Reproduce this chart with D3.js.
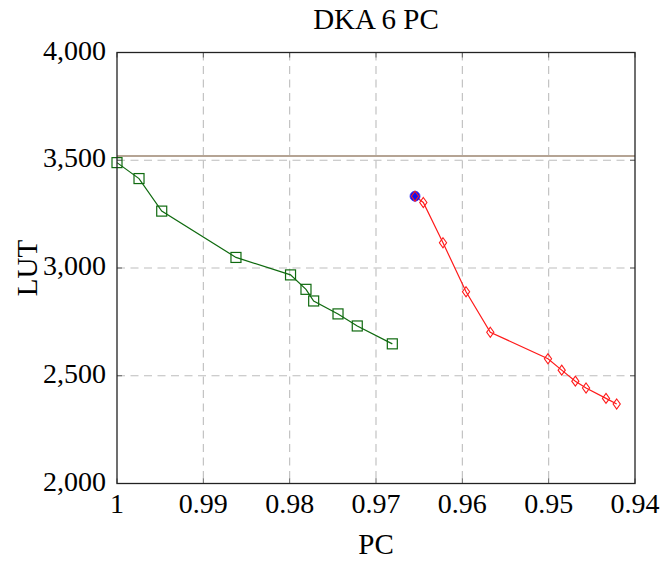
<!DOCTYPE html>
<html>
<head>
<meta charset="utf-8">
<script src="https://cdn.jsdelivr.net/npm/d3@7"></script>
<style>
  body { margin: 0; background: #fff; }
  text { font-family: "Liberation Serif", "DejaVu Serif", serif; fill: #000; }
</style>
</head>
<body>
<div id="chart"></div>
<script>
// Datos
const greenPC  = [1.0, 0.99745, 0.99482, 0.98622, 0.9799, 0.97811, 0.97722, 0.9744, 0.97217, 0.96811];
const greenLUT = [3489, 3415, 3264, 3049, 2968, 2901, 2847, 2787, 2731, 2648];

const redPC  = [0.96548, 0.96452, 0.96224, 0.95957, 0.95676, 0.95008, 0.94849, 0.94691, 0.94567, 0.94336, 0.94212];
const redLUT = [3333, 3304, 3117, 2890, 2702, 2579, 2526, 2475, 2443, 2395, 2369];

const bluePC  = [0.96548];
const blueLUT = [3333];

const limitLUT = 3520;

const xTicks = [1, 0.99, 0.98, 0.97, 0.96, 0.95, 0.94];
const yTicks = [2000, 2500, 3000, 3500, 4000];

// Dimensiones
const W = 664, H = 561;
const margin = {top: 52.5, right: 29, bottom: 77.5, left: 117};
const width = W - margin.left - margin.right;
const height = H - margin.top - margin.bottom;

const svg = d3.select("#chart").append("svg")
    .attr("width", W).attr("height", H);

const g = svg.append("g")
    .attr("transform", `translate(${margin.left},${margin.top})`);

const x = d3.scaleLinear().domain([1, 0.94]).range([0, width]);
const y = d3.scaleLinear().domain([2000, 4000]).range([height, 0]);

// Rejilla punteada
g.append("g").selectAll("line").data(xTicks.slice(1, -1)).join("line")
    .attr("x1", d => x(d)).attr("x2", d => x(d))
    .attr("y1", 0).attr("y2", height)
    .attr("stroke", "#bdbdbd").attr("stroke-width", 1.1)
    .attr("stroke-dasharray", "8,5.5");

g.append("g").selectAll("line").data(yTicks.slice(1, -1)).join("line")
    .attr("y1", d => y(d)).attr("y2", d => y(d))
    .attr("x1", 0).attr("x2", width)
    .attr("stroke", "#bdbdbd").attr("stroke-width", 1.1)
    .attr("stroke-dasharray", "8,5.5");

// Marcas cortas hacia dentro en los cuatro lados
const tickLen = 5;
const tickG = g.append("g").attr("stroke", "#555").attr("stroke-width", 0.9);
xTicks.forEach(t => {
    tickG.append("line").attr("x1", x(t)).attr("x2", x(t)).attr("y1", height).attr("y2", height - tickLen);
    tickG.append("line").attr("x1", x(t)).attr("x2", x(t)).attr("y1", 0).attr("y2", tickLen);
});
yTicks.forEach(t => {
    tickG.append("line").attr("y1", y(t)).attr("y2", y(t)).attr("x1", 0).attr("x2", tickLen);
    tickG.append("line").attr("y1", y(t)).attr("y2", y(t)).attr("x1", width).attr("x2", width - tickLen);
});

// Linea horizontal de referencia
g.append("line")
    .attr("x1", 0).attr("x2", width)
    .attr("y1", y(limitLUT)).attr("y2", y(limitLUT))
    .attr("stroke", "#9c8670").attr("stroke-width", 1.5);

const line = d3.line().x(d => x(d[0])).y(d => y(d[1]));

// Serie verde (cuadrados)
const greenData = d3.zip(greenPC, greenLUT);
g.append("path").attr("d", line(greenData))
    .attr("fill", "none").attr("stroke", "#0f6a0f").attr("stroke-width", 1.2);
g.append("g").selectAll("rect").data(greenData).join("rect")
    .attr("x", d => x(d[0]) - 5).attr("y", d => y(d[1]) - 5)
    .attr("width", 10).attr("height", 10)
    .attr("fill", "none").attr("stroke", "#0f6a0f").attr("stroke-width", 1.2);

// Serie roja (rombos)
const redData = d3.zip(redPC, redLUT);
g.append("path").attr("d", line(redData))
    .attr("fill", "none").attr("stroke", "#ff1a1a").attr("stroke-width", 1.2);

// Punto azul
g.append("g").selectAll("circle").data(d3.zip(bluePC, blueLUT)).join("circle")
    .attr("cx", d => x(d[0])).attr("cy", d => y(d[1])).attr("r", 5)
    .attr("fill", "#1010ee").attr("stroke", "#3030ff").attr("stroke-width", 0.8);

g.append("g").selectAll("path").data(redData).join("path")
    .attr("d", d => {
        const cx = x(d[0]), cy = y(d[1]);
        return `M${cx},${cy - 5}L${cx + 3.6},${cy}L${cx},${cy + 5}L${cx - 3.6},${cy}Z`;
    })
    .attr("fill", "none").attr("stroke", "#ff1a1a").attr("stroke-width", 1.1);

// Marco
g.append("rect").attr("x", 0).attr("y", 0).attr("width", width).attr("height", height)
    .attr("fill", "none").attr("stroke", "#222").attr("stroke-width", 1.3);

// Etiquetas de los ejes
const fmt = d3.format(",");
g.append("g").selectAll("text").data(yTicks).join("text")
    .attr("x", -11).attr("y", d => y(d) + 7)
    .attr("text-anchor", "end").attr("font-size", 28)
    .text(d => fmt(d));

g.append("g").selectAll("text").data(xTicks).join("text")
    .attr("x", d => x(d)).attr("y", 513 - margin.top)
    .attr("text-anchor", "middle").attr("font-size", 28)
    .text(d => d === 1 ? "1" : d.toFixed(2));

svg.append("text")
    .attr("x", margin.left + width / 2).attr("y", 554)
    .attr("text-anchor", "middle").attr("font-size", 29)
    .text("PC");

svg.append("text")
    .attr("transform", `translate(37,${margin.top + height / 2}) rotate(-90)`)
    .attr("text-anchor", "middle").attr("font-size", 29)
    .text("LUT");

svg.append("text")
    .attr("x", margin.left + width / 2).attr("y", 29)
    .attr("text-anchor", "middle").attr("font-size", 29)
    .text("DKA 6 PC");
</script>
</body>
</html>
